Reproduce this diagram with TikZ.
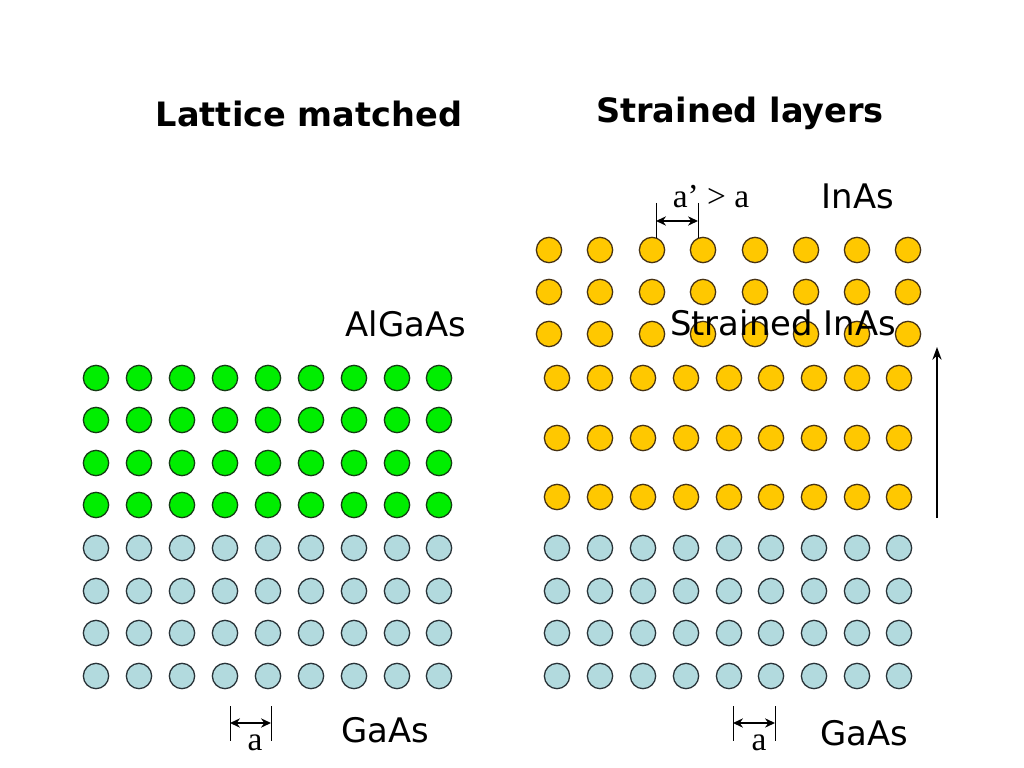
\documentclass[tikz,border=0pt]{standalone}
\usepackage{fontspec}
\setmainfont{DejaVu Sans}
\newfontfamily\timesf{Liberation Serif}
\usetikzlibrary{arrows.meta}
\definecolor{cgreen}{RGB}{0,238,0}
\definecolor{cgreenb}{RGB}{20,60,20}
\definecolor{cyel}{RGB}{255,200,0}
\definecolor{cyelb}{RGB}{70,50,20}
\definecolor{cblue}{RGB}{178,218,222}
\definecolor{cblueb}{RGB}{40,50,55}
\begin{document}
\begin{tikzpicture}[x=0.703125pt,y=-0.703125pt,
  atom/.style={circle,line width=0.9pt,minimum size=17.8pt,inner sep=0pt},
  ga/.style={atom,fill=cgreen,draw=cgreenb},
  ya/.style={atom,fill=cyel,draw=cyelb},
  ba/.style={atom,fill=cblue,draw=cblueb},
  title/.style={font=\bfseries\fontsize{23.6}{28}\selectfont},
  lbl/.style={font=\fontsize{23.8}{28}\selectfont},
  serif/.style={font=\timesf\fontsize{23.5}{28}\selectfont},
  tick/.style={line width=0.7pt},
  dim/.style={line width=1.2pt,{Stealth[length=7pt,width=6.5pt]}-{Stealth[length=7pt,width=6.5pt]}},
  up/.style={line width=1pt,-{Stealth[length=9pt,width=6.5pt]}}]
\useasboundingbox (0,0) rectangle (1024,768);

% titles
\node[title] (t1) at (309,114) {Lattice matched};
\node[title] (t2) at (740,113) {Strained layers};

% labels
\node[lbl] (lal) at (406,324) {AlGaAs};
\node[lbl] (lgl) at (385,730) {GaAs};
\node[lbl] (lgr) at (864,733) {GaAs};
\node[lbl] (lin) at (858,196) {InAs};

% left lattice
\foreach \i [count=\c] in {96,139,182,225,268,311,354,397,439}{
  \foreach \j [count=\r] in {378,420,463,505}
    \node[ga] (lg-\r-\c) at (\i,\j) {};
  \foreach \j [count=\r] in {548,591,633,676}
    \node[ba] (lb-\r-\c) at (\i,\j) {};
}

% right lattice
\foreach \i [count=\c] in {557,600,643,686,729,771,814,857,899}{
  \foreach \j [count=\r] in {378,438,497}
    \node[ya] (ry-\r-\c) at (\i,\j) {};
  \foreach \j [count=\r] in {548,591,633,676}
    \node[ba] (rb-\r-\c) at (\i,\j) {};
}
\foreach \i [count=\c] in {549,600,652,703,755,806,857,908}{
  \foreach \j [count=\r] in {250,292,334}
    \node[ya] (rt-\r-\c) at (\i,\j) {};
}

\node[lbl] (lsi) at (783,323) {Strained InAs};

% growth arrow
\coordinate (arA) at (937,518);
\coordinate (arB) at (937,347);
\draw[up] (arA) -- (arB);

% a' > a dimension
\coordinate (p1t) at (656,203); \coordinate (p1b) at (656,238);
\coordinate (p2t) at (698,203); \coordinate (p2b) at (698,238);
\draw[tick] (p1t) -- (p1b);
\draw[tick] (p2t) -- (p2b);
\coordinate (d1) at (656,221); \coordinate (d2) at (698,221);
\draw[dim] (d1) -- (d2);
\node[serif] (lap) at (711,197) {a’ > a};

% left a dimension
\coordinate (q1t) at (230,706); \coordinate (q1b) at (230,741);
\coordinate (q2t) at (271,706); \coordinate (q2b) at (271,741);
\draw[tick] (q1t) -- (q1b);
\draw[tick] (q2t) -- (q2b);
\coordinate (e1) at (230,723); \coordinate (e2) at (271,723);
\draw[dim] (e1) -- (e2);
\node[serif] (la1) at (255,743) {a};

% right a dimension
\coordinate (s1t) at (733,706); \coordinate (s1b) at (733,741);
\coordinate (s2t) at (775,706); \coordinate (s2b) at (775,741);
\draw[tick] (s1t) -- (s1b);
\draw[tick] (s2t) -- (s2b);
\coordinate (f1) at (733,723); \coordinate (f2) at (775,723);
\draw[dim] (f1) -- (f2);
\node[serif] (la2) at (759,743) {a};
\end{tikzpicture}
\end{document}
